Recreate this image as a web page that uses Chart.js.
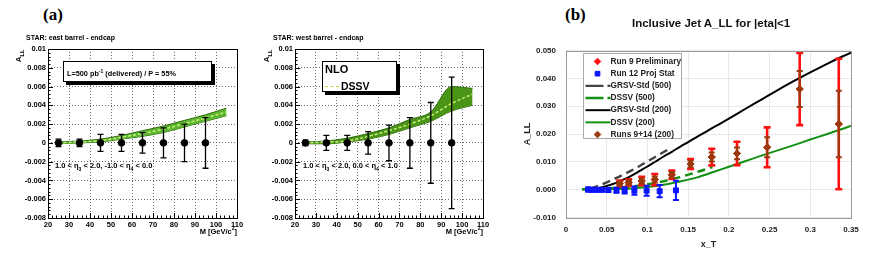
<!DOCTYPE html>
<html>
<head>
<meta charset="utf-8">
<script src="https://cdn.jsdelivr.net/npm/chart.js@4.4.0/dist/chart.umd.min.js"></script>
<style>
  body { margin: 0; width: 871px; height: 255px; background: #fff; position: relative; overflow: hidden;
         font-family: "Liberation Sans", Arial, sans-serif; }
  canvas { position: absolute; }
  .t { position: absolute; white-space: nowrap; font-weight: bold; color: #000; line-height: 1; }
  .s7 { font-size: 7px; }
  .rot { transform: translate(-50%, -50%) rotate(-90deg); }
  .box { position: absolute; background: #fff; border: 1px solid #000; box-shadow: 3px 3px 0 #000; box-sizing: border-box; }
</style>
</head>
<body>
<div class="t" style="left:43px;top:5px;font:bold 17px 'Liberation Serif',serif">(a)</div>
<div class="t" style="left:565px;top:5px;font:bold 17px 'Liberation Serif',serif">(b)</div>

<canvas id="east" width="250" height="227" style="left:0;top:28px"></canvas>
<canvas id="west" width="250" height="227" style="left:247px;top:28px"></canvas>
<canvas id="jets" width="351" height="225" style="left:520px;top:30px"></canvas>

<div class="t s7" style="left:26px;top:34px">STAR: east barrel - endcap</div>
<div class="t s7" style="left:273px;top:34px">STAR: west barrel - endcap</div>
<div class="t rot" style="left:20px;top:56px;font-size:8px">A<sub style="font-size:5.5px">LL</sub></div>
<div class="t rot" style="left:268px;top:56px;font-size:8px">A<sub style="font-size:5.5px">LL</sub></div>
<div class="t" style="right:634px;top:226px;font-size:7.5px">M [GeV/c<sup style="font-size:5px">2</sup>]</div>
<div class="t" style="right:388px;top:226px;font-size:7.5px">M [GeV/c<sup style="font-size:5px">2</sup>]</div>

<div class="box" style="left:63px;top:61px;width:149px;height:21px"></div>
<div class="t" style="left:67px;top:69px;font-size:7.3px">L=500 pb<sup style="font-size:5px">-1</sup> (delivered) / P = 55%</div>
<div class="box" style="left:322px;top:61px;width:75px;height:31px"></div>
<div class="t" style="left:325px;top:64px;font-size:11px">NLO</div>
<div style="position:absolute;left:325px;top:86px;width:14px;border-top:1.5px dashed #a8e04a"></div>
<div class="t" style="left:341px;top:81px;font-size:10.5px">DSSV</div>

<div class="t" style="left:55px;top:162px;font-size:7.5px">1.0 &lt; &eta;<sub style="font-size:5px">3</sub> &lt; 2.0, -1.0 &lt; &eta;<sub style="font-size:5px">4</sub> &lt; 0.0</div>
<div class="t" style="left:303px;top:162px;font-size:7.5px">1.0 &lt; &eta;<sub style="font-size:5px">3</sub> &lt; 2.0, 0.0 &lt; &eta;<sub style="font-size:5px">4</sub> &lt; 1.0</div>

<div class="t" style="left:632px;top:18px;font-size:11.5px;color:#111">Inclusive Jet A_LL for |eta|&lt;1</div>

<script>
// ---- (a) dijet mass projections, STAR barrel - endcap
const massBins = [25, 35, 45, 55, 65, 75, 85, 95];
const eastAll = [0, 0, 0, 0, 0, 0, 0, 0];
const eastErr = [0.0004, 0.0004, 0.0009, 0.0009, 0.0011, 0.0016, 0.0020, 0.0027];
const westAll = [0, 0, 0, 0, 0, 0, 0, 0];
const westErr = [0.0003, 0.0008, 0.0008, 0.0012, 0.0019, 0.0027, 0.0043, 0.0070];

const bandMass = [25, 35, 45, 55, 65, 75, 85, 95, 105];
const eastDssv = [0.0000, 0.0001, 0.00025, 0.0006, 0.0010, 0.00145, 0.00205, 0.00265, 0.0033];
const eastLow  = [-0.0001, 0.0000, 0.0001, 0.0004, 0.0007, 0.0011, 0.0017, 0.0023, 0.0029];
const eastHigh = [0.0001, 0.0002, 0.0004, 0.0008, 0.0013, 0.0018, 0.0024, 0.0030, 0.0037];
const westDssv = [0.0000, 0.0001, 0.0002, 0.0007, 0.0013, 0.0020, 0.0029, 0.0042, 0.0052];
const westLow  = [-0.0001, -0.0001, 0.0001, 0.0004, 0.0009, 0.0016, 0.0023, 0.0034, 0.0040];
const westHigh = [0.0001, 0.0002, 0.0005, 0.0010, 0.0016, 0.0025, 0.0033, 0.0060, 0.0058];

const massTicks = [20, 30, 40, 50, 60, 70, 80, 90, 100, 110];
const massTickLabels = ["20", "30", "40", "50", "60", "70", "80", "90", "100", "110"];
const allTicks = [-0.008, -0.006, -0.004, -0.002, 0, 0.002, 0.004, 0.006, 0.008, 0.01];
const allTickLabels = ["-0.008", "-0.006", "-0.004", "-0.002", "0", "0.002", "0.004", "0.006", "0.008", "0.01"];

// ---- (b) inclusive jet A_LL vs x_T
const jetX = [0.066, 0.077, 0.093, 0.109, 0.130, 0.153, 0.179, 0.210, 0.247, 0.287, 0.335];
const jetY = [0.0021, 0.0025, 0.0031, 0.0036, 0.0053, 0.0092, 0.0117, 0.0130, 0.0152, 0.0362, 0.0236];
const run9Err = [0.0011, 0.0012, 0.0015, 0.0020, 0.0015, 0.0018, 0.0030, 0.0042, 0.0072, 0.0130, 0.0235];
const run914Err = [0.0007, 0.0008, 0.0009, 0.0011, 0.0010, 0.0012, 0.0016, 0.0021, 0.0036, 0.0065, 0.0120];

const run12X = [0.027, 0.031, 0.038, 0.044, 0.052, 0.062, 0.072, 0.084, 0.099, 0.115, 0.135];
const run12Y = [0, -0.0001, -0.0001, -0.0001, -0.0002, -0.0003, -0.0003, -0.0004, -0.0004, -0.0006, -0.0003];
const run12Err = [0.0007, 0.0007, 0.0006, 0.0006, 0.0007, 0.0009, 0.0011, 0.0015, 0.0018, 0.0022, 0.0035];

const grsv500X = [0.03, 0.04, 0.05, 0.06, 0.07, 0.08, 0.09, 0.10, 0.11, 0.12, 0.127];
const grsv500Y = [0.0004, 0.0014, 0.0026, 0.0039, 0.0053, 0.0068, 0.0084, 0.0101, 0.0118, 0.0135, 0.0147];
const dssv500X = [0.02, 0.04, 0.06, 0.08, 0.10, 0.12, 0.14, 0.16, 0.18];
const dssv500Y = [0.0001, 0.0003, 0.0006, 0.0011, 0.0019, 0.0030, 0.0045, 0.0062, 0.0081];
const grsv200X = [0.02, 0.03, 0.04, 0.05, 0.06, 0.07, 0.08, 0.09, 0.10, 0.11, 0.12, 0.13, 0.14, 0.15,
                  0.16, 0.17, 0.18, 0.19, 0.20, 0.22, 0.24, 0.26, 0.28, 0.30, 0.32, 0.34, 0.35];
const grsv200Y = [0.0001, 0.0002, 0.0006, 0.0013, 0.0022, 0.0035, 0.0049, 0.0066, 0.0083, 0.0101, 0.0119, 0.0136, 0.0154, 0.0171,
                  0.0188, 0.0205, 0.0222, 0.0238, 0.0255, 0.0290, 0.0324, 0.0358, 0.0391, 0.0422, 0.0452, 0.0480, 0.0493];
const dssv200X = [0.02, 0.04, 0.06, 0.08, 0.10, 0.12, 0.14, 0.16, 0.18, 0.20, 0.22, 0.24, 0.26, 0.28, 0.30, 0.32, 0.34, 0.35];
const dssv200Y = [0.0001, 0.0001, 0.0002, 0.0004, 0.0009, 0.0017, 0.0029, 0.0043, 0.0062, 0.0082, 0.0102, 0.0122, 0.0141, 0.0160, 0.0180, 0.0199, 0.0219, 0.0230];

const xtTicks = [0, 0.05, 0.1, 0.15, 0.2, 0.25, 0.3, 0.35];
const xtTickLabels = ["0", "0.05", "0.1", "0.15", "0.2", "0.25", "0.3", "0.35"];
const allTicksB = [-0.01, 0, 0.01, 0.02, 0.03, 0.04, 0.05];
const allTickLabelsB = ["-0.010", "0.000", "0.010", "0.020", "0.030", "0.040", "0.050"];

const pts = (xs, ys) => xs.map((x, i) => ({ x: x, y: ys[i] }));

Chart.defaults.font.family = "'Liberation Sans', Arial, sans-serif";

// error bars, drawn just before the dataset's own markers
const errorBars = {
  id: 'errorBars',
  beforeDatasetDraw(chart, args) {
    const ds = chart.data.datasets[args.index];
    if (!ds.errors) return;
    const { ctx, scales: { x, y } } = chart;
    ctx.save();
    ctx.strokeStyle = ds.errColor || ds.borderColor;
    ctx.lineWidth = ds.errWidth || 1.5;
    const cw = ds.capWidth || 3;
    ds.data.forEach((p, i) => {
      const px = x.getPixelForValue(p.x);
      const top = y.getPixelForValue(p.y + ds.errors[i]);
      const bot = y.getPixelForValue(p.y - ds.errors[i]);
      ctx.beginPath();
      ctx.moveTo(px, top); ctx.lineTo(px, bot);
      ctx.moveTo(px - cw, top); ctx.lineTo(px + cw, top);
      ctx.moveTo(px - cw, bot); ctx.lineTo(px + cw, bot);
      ctx.stroke();
    });
    ctx.restore();
  }
};

// ROOT style frame with inward major/minor ticks
const rootFrame = {
  id: 'rootFrame',
  afterDraw(chart) {
    const { ctx, chartArea: a, scales: { x, y } } = chart;
    ctx.save();
    ctx.strokeStyle = '#000';
    ctx.lineWidth = 1;
    ctx.strokeRect(Math.round(a.left) + 0.5, Math.round(a.top) + 0.5, Math.round(a.right - a.left), Math.round(a.bottom - a.top));
    ctx.beginPath();
    const xs = x.ticks.map(t => t.value), ys = y.ticks.map(t => t.value);
    const dx = (xs[1] - xs[0]) / 5, dy = (ys[1] - ys[0]) / 5;
    for (let i = 0; i <= (xs[xs.length - 1] - xs[0]) / dx + 0.01; i++) {
      const px = Math.round(x.getPixelForValue(xs[0] + i * dx)) + 0.5;
      const len = i % 5 === 0 ? 5 : 2.5;
      ctx.moveTo(px, a.bottom); ctx.lineTo(px, a.bottom - len);
    }
    for (let i = 0; i <= (ys[ys.length - 1] - ys[0]) / dy + 0.01; i++) {
      const py = Math.round(y.getPixelForValue(ys[0] + i * dy)) + 0.5;
      const len = i % 5 === 0 ? 5 : 2.5;
      ctx.moveTo(a.left, py); ctx.lineTo(a.left + len, py);
    }
    ctx.stroke();
    ctx.restore();
  }
};

function makeMassChart(id, vals, errs, dssv, low, high, bandColor, padRight) {
  return new Chart(document.getElementById(id), {
    type: 'scatter',
    data: {
      datasets: [
        { label: 'projection', data: pts(massBins, vals), errors: errs, errWidth: 1.3, capWidth: 3,
          pointStyle: 'circle', pointRadius: 3.3, backgroundColor: '#000', borderColor: '#000', order: 0 },
        { label: 'DSSV', data: pts(bandMass, dssv), showLine: true, borderColor: '#c6f078', borderDash: [3, 2],
          borderWidth: 1.5, pointRadius: 0, cubicInterpolationMode: 'monotone', order: 1 },
        { label: 'DSSV upper', data: pts(bandMass, high), showLine: true, borderColor: '#2e6a0c', borderWidth: 1,
          pointRadius: 0, backgroundColor: bandColor, fill: '+1', cubicInterpolationMode: 'monotone', order: 2 },
        { label: 'DSSV lower', data: pts(bandMass, low), showLine: true, borderColor: '#2e6a0c', borderWidth: 1,
          pointRadius: 0, cubicInterpolationMode: 'monotone', order: 3 }
      ]
    },
    options: {
      responsive: false, animation: false, events: [], devicePixelRatio: 1,
      layout: { padding: { left: 0, right: padRight, top: 21, bottom: 0 } },
      plugins: { legend: { display: false }, tooltip: { enabled: false } },
      scales: {
        x: {
          type: 'linear', min: 20, max: 110,
          afterBuildTicks: s => { s.ticks = massTicks.map(v => ({ value: v })); },
          afterFit: s => { s.height = 37; },
          grid: { color: '#444', lineWidth: 0.8, drawTicks: false },
          border: { display: false, dash: [1, 2] },
          ticks: { autoSkip: false, maxRotation: 0, padding: 2, color: '#000',
                   font: { size: 7.5, weight: 'bold' }, callback: (v, i) => massTickLabels[i] }
        },
        y: {
          type: 'linear', min: -0.008, max: 0.01,
          afterBuildTicks: s => { s.ticks = allTicks.map(v => ({ value: v })); },
          afterFit: s => { s.width = 48; },
          grid: { color: '#444', lineWidth: 0.8, drawTicks: false },
          border: { display: false, dash: [1, 2] },
          ticks: { autoSkip: false, padding: 2, color: '#000',
                   font: { size: 7.5, weight: 'bold' }, callback: (v, i) => allTickLabels[i] }
        }
      }
    },
    plugins: [errorBars, rootFrame]
  });
}

makeMassChart('east', eastAll, eastErr, eastDssv, eastLow, eastHigh, '#5cb531', 13);
makeMassChart('west', westAll, westErr, westDssv, westLow, westHigh, '#4a9418', 14);

// legend box inside the x_T plot area
const insideLegend = {
  id: 'insideLegend',
  afterDraw(chart, args, o) {
    const { ctx, chartArea: a } = chart;
    const x0 = Math.round(a.left + o.x) + 0.5, y0 = Math.round(a.top + o.y) + 0.5;
    ctx.save();
    ctx.fillStyle = '#fff';
    ctx.fillRect(x0, y0, o.w, o.h);
    ctx.strokeStyle = '#aaa'; ctx.lineWidth = 1;
    ctx.strokeRect(x0, y0, o.w, o.h);
    ctx.font = "bold 8.3px 'Liberation Sans', Arial, sans-serif";
    ctx.textBaseline = 'middle';
    chart.data.datasets.forEach((ds, i) => {
      const cy = y0 + o.first + i * o.row;
      if (ds.showLine) {
        ctx.strokeStyle = ds.borderColor; ctx.lineWidth = ds.borderWidth;
        ctx.setLineDash(ds.borderDash ? [18, 4] : []);
        ctx.beginPath(); ctx.moveTo(x0 + 2, cy); ctx.lineTo(x0 + 27, cy); ctx.stroke();
        ctx.setLineDash([]);
      } else {
        ctx.fillStyle = ds.backgroundColor; ctx.strokeStyle = ds.borderColor; ctx.lineWidth = 1;
        Chart.helpers.drawPoint(ctx, { pointStyle: ds.pointStyle, radius: 3.3, rotation: 0, borderWidth: 1 }, x0 + 14, cy);
      }
      ctx.fillStyle = '#222';
      ctx.fillText(ds.label, x0 + 27, cy);
    });
    ctx.restore();
  }
};

const grayFrame = {
  id: 'grayFrame',
  afterDatasetsDraw(chart) {
    const { ctx, chartArea: a } = chart;
    ctx.save();
    ctx.strokeStyle = '#9a9a9a'; ctx.lineWidth = 1;
    ctx.strokeRect(Math.round(a.left) + 0.5, Math.round(a.top) + 0.5, Math.round(a.right - a.left), Math.round(a.bottom - a.top));
    ctx.restore();
  }
};

new Chart(document.getElementById('jets'), {
  type: 'scatter',
  data: {
    datasets: [
      { label: 'Run 9 Preliminary', data: pts(jetX, jetY), errors: run9Err, errWidth: 2.6, capWidth: 3.5,
        pointStyle: 'rectRot', pointRadius: 3.5, backgroundColor: '#ff1010', borderColor: '#ff1010', order: 2 },
      { label: 'Run 12 Proj Stat', data: pts(run12X, run12Y), errors: run12Err, errWidth: 2, capWidth: 3,
        pointStyle: 'rect', pointRadius: 3.5, backgroundColor: '#0a14ff', borderColor: '#0a14ff', order: 1 },
      { label: 'GRSV-Std (500)', data: pts(grsv500X, grsv500Y), showLine: true, borderColor: '#444',
        borderDash: [8, 5], borderWidth: 2.4, pointRadius: 0, cubicInterpolationMode: 'monotone', order: 4 },
      { label: 'DSSV (500)', data: pts(dssv500X, dssv500Y), showLine: true, borderColor: '#149014',
        borderDash: [8, 5], borderWidth: 2.4, pointRadius: 0, cubicInterpolationMode: 'monotone', order: 4 },
      { label: 'GRSV-Std (200)', data: pts(grsv200X, grsv200Y), showLine: true, borderColor: '#000',
        borderWidth: 2, pointRadius: 0, cubicInterpolationMode: 'monotone', order: 5 },
      { label: 'DSSV (200)', data: pts(dssv200X, dssv200Y), showLine: true, borderColor: '#149014',
        borderWidth: 2, pointRadius: 0, cubicInterpolationMode: 'monotone', order: 5 },
      { label: 'Runs 9+14 (200)', data: pts(jetX, jetY), errors: run914Err, errWidth: 2, capWidth: 3,
        pointStyle: 'rectRot', pointRadius: 3.5, backgroundColor: '#9a3a0c', borderColor: '#9a3a0c', order: 0 }
    ]
  },
  options: {
    responsive: false, animation: false, events: [], devicePixelRatio: 1,
    layout: { padding: { left: 0, right: 20, top: 20.7, bottom: 0 } },
    plugins: {
      legend: { display: false }, tooltip: { enabled: false },
      insideLegend: { x: 17, y: 2.3, w: 98, h: 85, first: 8, row: 12.17 }
    },
    scales: {
      x: {
        type: 'linear', min: 0, max: 0.35,
        afterBuildTicks: s => { s.ticks = xtTicks.map(v => ({ value: v })); },
        afterFit: s => { s.height = 37.7; },
        grid: { color: '#e8e8e8', drawTicks: false }, border: { display: false },
        ticks: { autoSkip: false, maxRotation: 0, padding: 8, color: '#222',
                 font: { size: 8, weight: 'bold' }, callback: (v, i) => xtTickLabels[i] },
        title: { display: true, text: 'x_T', color: '#222', font: { size: 9, weight: 'bold' }, padding: { top: 0, bottom: 4.6 } }
      },
      y: {
        type: 'linear', min: -0.01, max: 0.05,
        afterBuildTicks: s => { s.ticks = allTicksB.map(v => ({ value: v })); },
        afterFit: s => { s.width = 46; },
        grid: { color: '#e8e8e8', drawTicks: false }, border: { display: false },
        ticks: { autoSkip: false, padding: 10, color: '#222',
                 font: { size: 8, weight: 'bold' }, callback: (v, i) => allTickLabelsB[i] },
        title: { display: true, text: 'A_LL', color: '#222', font: { size: 9, weight: 'bold' }, padding: { top: 2.6, bottom: 0 } }
      }
    }
  },
  plugins: [errorBars, grayFrame, insideLegend]
});
</script>
</body>
</html>
